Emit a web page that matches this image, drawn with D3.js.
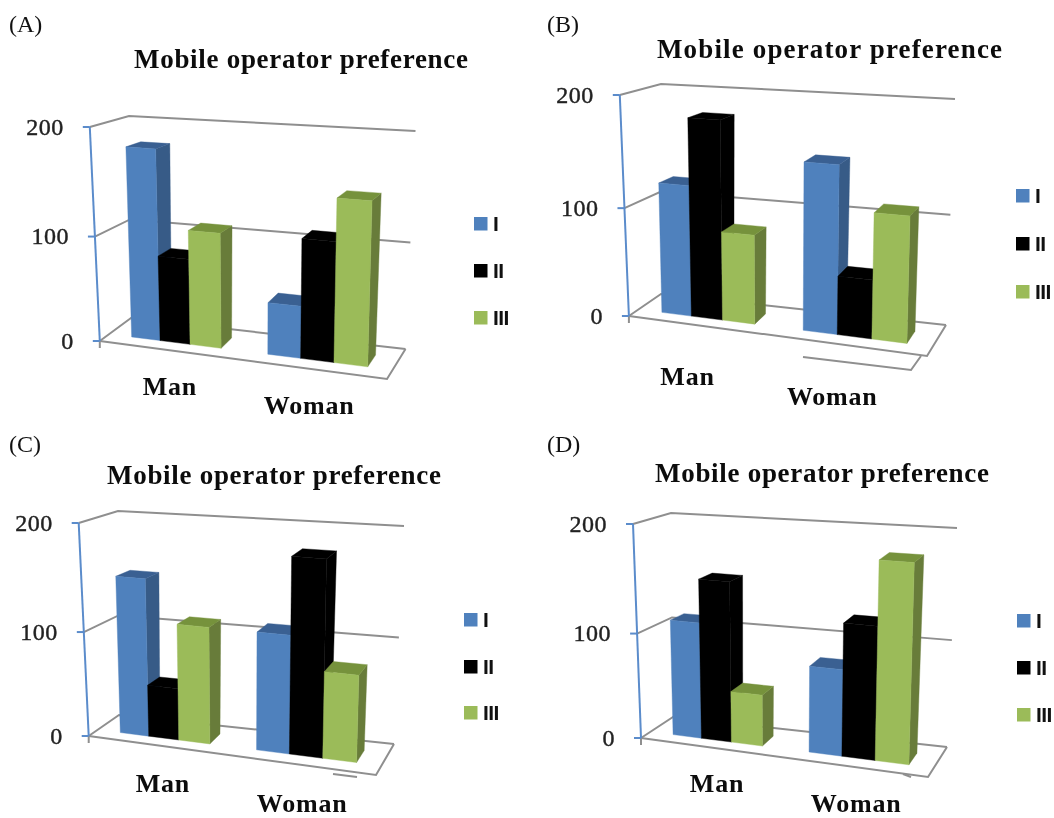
<!DOCTYPE html>
<html>
<head>
<meta charset="utf-8">
<script src="https://cdn.jsdelivr.net/npm/d3@7"></script>
<style>
  html, body { margin: 0; background: #fff; }
  svg { display: block; filter: blur(0.45px); }
  .letter { font-family: "Liberation Serif", serif; font-size: 24px; fill: #111; }
  .title, .cat { font-family: "Liberation Serif", serif; font-weight: bold; fill: #0c0c0c; }
  .title { font-size: 27px; }
  .cat { font-size: 26px; }
  .tick text { font-family: "Liberation Serif", serif; font-size: 24px; fill: #222; stroke: #222; stroke-width: 0.4; }
  .legend-label { font-family: "Liberation Sans", sans-serif; font-weight: bold; font-size: 21px; fill: #111; }
</style>
</head>
<body>
<svg id="chart" width="1054" height="818"></svg>
<script>
const categories = ["Man", "Woman"];
const seriesNames = ["I", "II", "III"];
const tickValues = [0, 100, 200];
const titleText = "Mobile operator preference";

// one row per series, Man then Woman
const valuesA = [[180, 48], [81, 110], [108, 148]];
const valuesB = [[120, 149], [180, 52], [81, 111]];
const valuesC = [[149, 110], [49, 180], [110, 80]];
const valuesD = [[110, 80], [150, 122], [48, 180]];

const seriesColors = [
  { front: "#4f81bd", side: "#375b87", top: "#3a6092" },
  { front: "#000000", side: "#000000", top: "#000000" },
  { front: "#9bbb59", side: "#687c3a", top: "#76923c" }
];

// the corners of each tilted box: F/B = front/back, L/R = left/right, 0/2 = value 0/200
const panels = [
  { letter: "(A)", lx: 9, ly: 32, values: valuesA,
    FL0: [99.8, 341], FL2: [89.8, 127], BL0: [131, 318], BL2: [129, 116],
    FR0: [387, 379], FR2: [393, 147], BR0: [405.5, 349], BR2: [415.5, 131],
    title: [134, 68, 334], catOff: [1, 45], legend: [474, [217, 264, 311]] },
  { letter: "(B)", lx: 547, ly: 32, values: valuesB,
    FL0: [628.9, 316], FL2: [619.8, 95], BL0: [661, 294], BL2: [661, 84],
    FR0: [927, 356], FR2: [933, 116], BR0: [946, 325], BR2: [955, 99],
    title: [657, 58, 345], catOff: [-13, 60], legend: [1016, [189, 237, 285]],
    stub: [[803, 357], [911, 370], [921, 356]] },
  { letter: "(C)", lx: 9, ly: 452, values: valuesC,
    FL0: [88.7, 736], FL2: [78.7, 523], BL0: [119, 715], BL2: [118, 511],
    FR0: [376, 775], FR2: [382, 547], BR0: [394, 744], BR2: [404, 526],
    title: [107, 484, 334], catOff: [5, 47], legend: [464, [613, 660, 706]],
    stub: [[333, 774], [357, 777]] },
  { letter: "(D)", lx: 547, ly: 452, values: valuesD,
    FL0: [641, 738], FL2: [633, 524], BL0: [673, 717], BL2: [671, 513],
    FR0: [928, 777], FR2: [934, 547], BR0: [947, 747], BR2: [957, 528],
    title: [655, 482, 334], catOff: [7, 45], legend: [1017, [614, 661, 708]],
    stub: [[903, 774], [911, 777]] }
];

const gridColor = "#8f8f8f";
const axisColor = "#5b8ccb";
const depthFront = 0.3, depthBack = 0.7;
const catShift = [2.5, -2.5];

const svg = d3.select("#chart");

// value -> share of the box height (the lower half is drawn a bit shorter)
const yShare = d3.scaleLinear().domain([0, 100, 200]).range([0, 0.488, 1]);
// horizontal share of the floor for each category and series
const x0 = d3.scaleBand().domain(categories).range([0, 1.02]).paddingInner(0.327).paddingOuter(0.204);
const x1 = d3.scaleBand().domain(seriesNames).range([0, x0.bandwidth()]);
// bars on the right come closer to the viewer, so they get wider
const warp = d3.scalePow().exponent(1.1).domain([0, 1]).range([0, 1]);

const line = d3.line();

panels.forEach(drawPanel);

function drawPanel(p) {
  const g = svg.append("g");

  // trilinear mapping of the tilted box
  function project(u, d, value) {
    const v = yShare(value);
    const out = [];
    for (let k = 0; k < 2; k++) {
      const front0 = p.FL0[k] + (p.FR0[k] - p.FL0[k]) * u;
      const front2 = p.FL2[k] + (p.FR2[k] - p.FL2[k]) * u;
      const back0 = p.BL0[k] + (p.BR0[k] - p.BL0[k]) * u;
      const back2 = p.BL2[k] + (p.BR2[k] - p.BL2[k]) * u;
      const low = front0 + (back0 - front0) * d;
      const high = front2 + (back2 - front2) * d;
      out.push(low + (high - low) * v);
    }
    return out;
  }

  g.append("text").attr("class", "letter").attr("x", p.lx).attr("y", p.ly).text(p.letter);

  g.append("text")
    .attr("class", "title")
    .attr("x", p.title[0])
    .attr("y", p.title[1])
    .attr("textLength", p.title[2])
    .text(titleText);

  // walls: side and back gridlines
  const grid = g.append("g")
    .attr("fill", "none")
    .attr("stroke", gridColor)
    .attr("stroke-width", 2);

  tickValues.forEach(function(t) {
    grid.append("path").attr("d", line([project(0, 0, t), project(0, 1, t), project(1, 1, t)]));
  });

  // floor outline
  grid.append("path").attr("d", line([project(0, 0, 0), project(1, 0, 0), project(1, 1, 0)]));
  grid.append("path").attr("d", line([project(0, 0, 0), [p.FL0[0], p.FL0[1] + 7]]));
  if (p.stub) grid.append("path").attr("d", line(p.stub));

  // bars
  seriesNames.forEach(function(name, s) {
    categories.forEach(function(cat, c) {
      const value = p.values[s][c];
      const u0 = warp(x0(cat) + x1(name));
      const u1 = warp(x0(cat) + x1(name) + x1.bandwidth());
      const col = seriesColors[s];
      const bar = g.append("g").attr("stroke-width", 0.4);
      bar.append("path").attr("fill", col.side).attr("stroke", col.side).attr("d", line([
        project(u1, depthFront, 0), project(u1, depthBack, 0),
        project(u1, depthBack, value), project(u1, depthFront, value)
      ]) + "Z");
      bar.append("path").attr("fill", col.top).attr("stroke", col.top).attr("d", line([
        project(u0, depthFront, value), project(u1, depthFront, value),
        project(u1, depthBack, value), project(u0, depthBack, value)
      ]) + "Z");
      bar.append("path").attr("fill", col.front).attr("stroke", col.front).attr("d", line([
        project(u0, depthFront, 0), project(u1, depthFront, 0),
        project(u1, depthFront, value), project(u0, depthFront, value)
      ]) + "Z");
    });
  });

  // value axis: a normal left axis whose ticks are then moved onto the slanted edge
  const axisScale = d3.scaleLinear().domain([0, 200]).range([p.FL0[1], p.FL2[1]]);
  const axis = g.append("g")
    .call(d3.axisLeft(axisScale).tickValues(tickValues).tickSize(7).tickPadding(19));
  axis.select(".domain")
    .attr("stroke", axisColor)
    .attr("stroke-width", 2)
    .attr("d", line([project(0, 0, 0), project(0, 0, 200)]));
  axis.selectAll(".tick")
    .attr("transform", function(d) {
      return "translate(" + project(0, 0, d) + ")";
    });
  axis.selectAll(".tick line").attr("stroke", axisColor).attr("stroke-width", 2);
  axis.selectAll(".tick text").attr("letter-spacing", 0.5);

  // category labels
  categories.forEach(function(cat, c) {
    const pos = project(warp(x0(cat) + x0.bandwidth() / 2), 0, 0);
    g.append("text")
      .attr("class", "cat")
      .attr("x", pos[0] + p.catOff[0] + catShift[c])
      .attr("y", pos[1] + p.catOff[1])
      .attr("text-anchor", "middle")
      .attr("letter-spacing", 0.8)
      .text(cat);
  });

  // legend
  seriesNames.forEach(function(name, s) {
    const y = p.legend[1][s];
    g.append("rect")
      .attr("x", p.legend[0])
      .attr("y", y)
      .attr("width", 13.5)
      .attr("height", 13.5)
      .attr("fill", seriesColors[s].front);
    g.append("text")
      .attr("class", "legend-label")
      .attr("x", p.legend[0] + 19)
      .attr("y", y + 14)
      .attr("letter-spacing", -0.6)
      .text(name);
  });
}
</script>
</body>
</html>
